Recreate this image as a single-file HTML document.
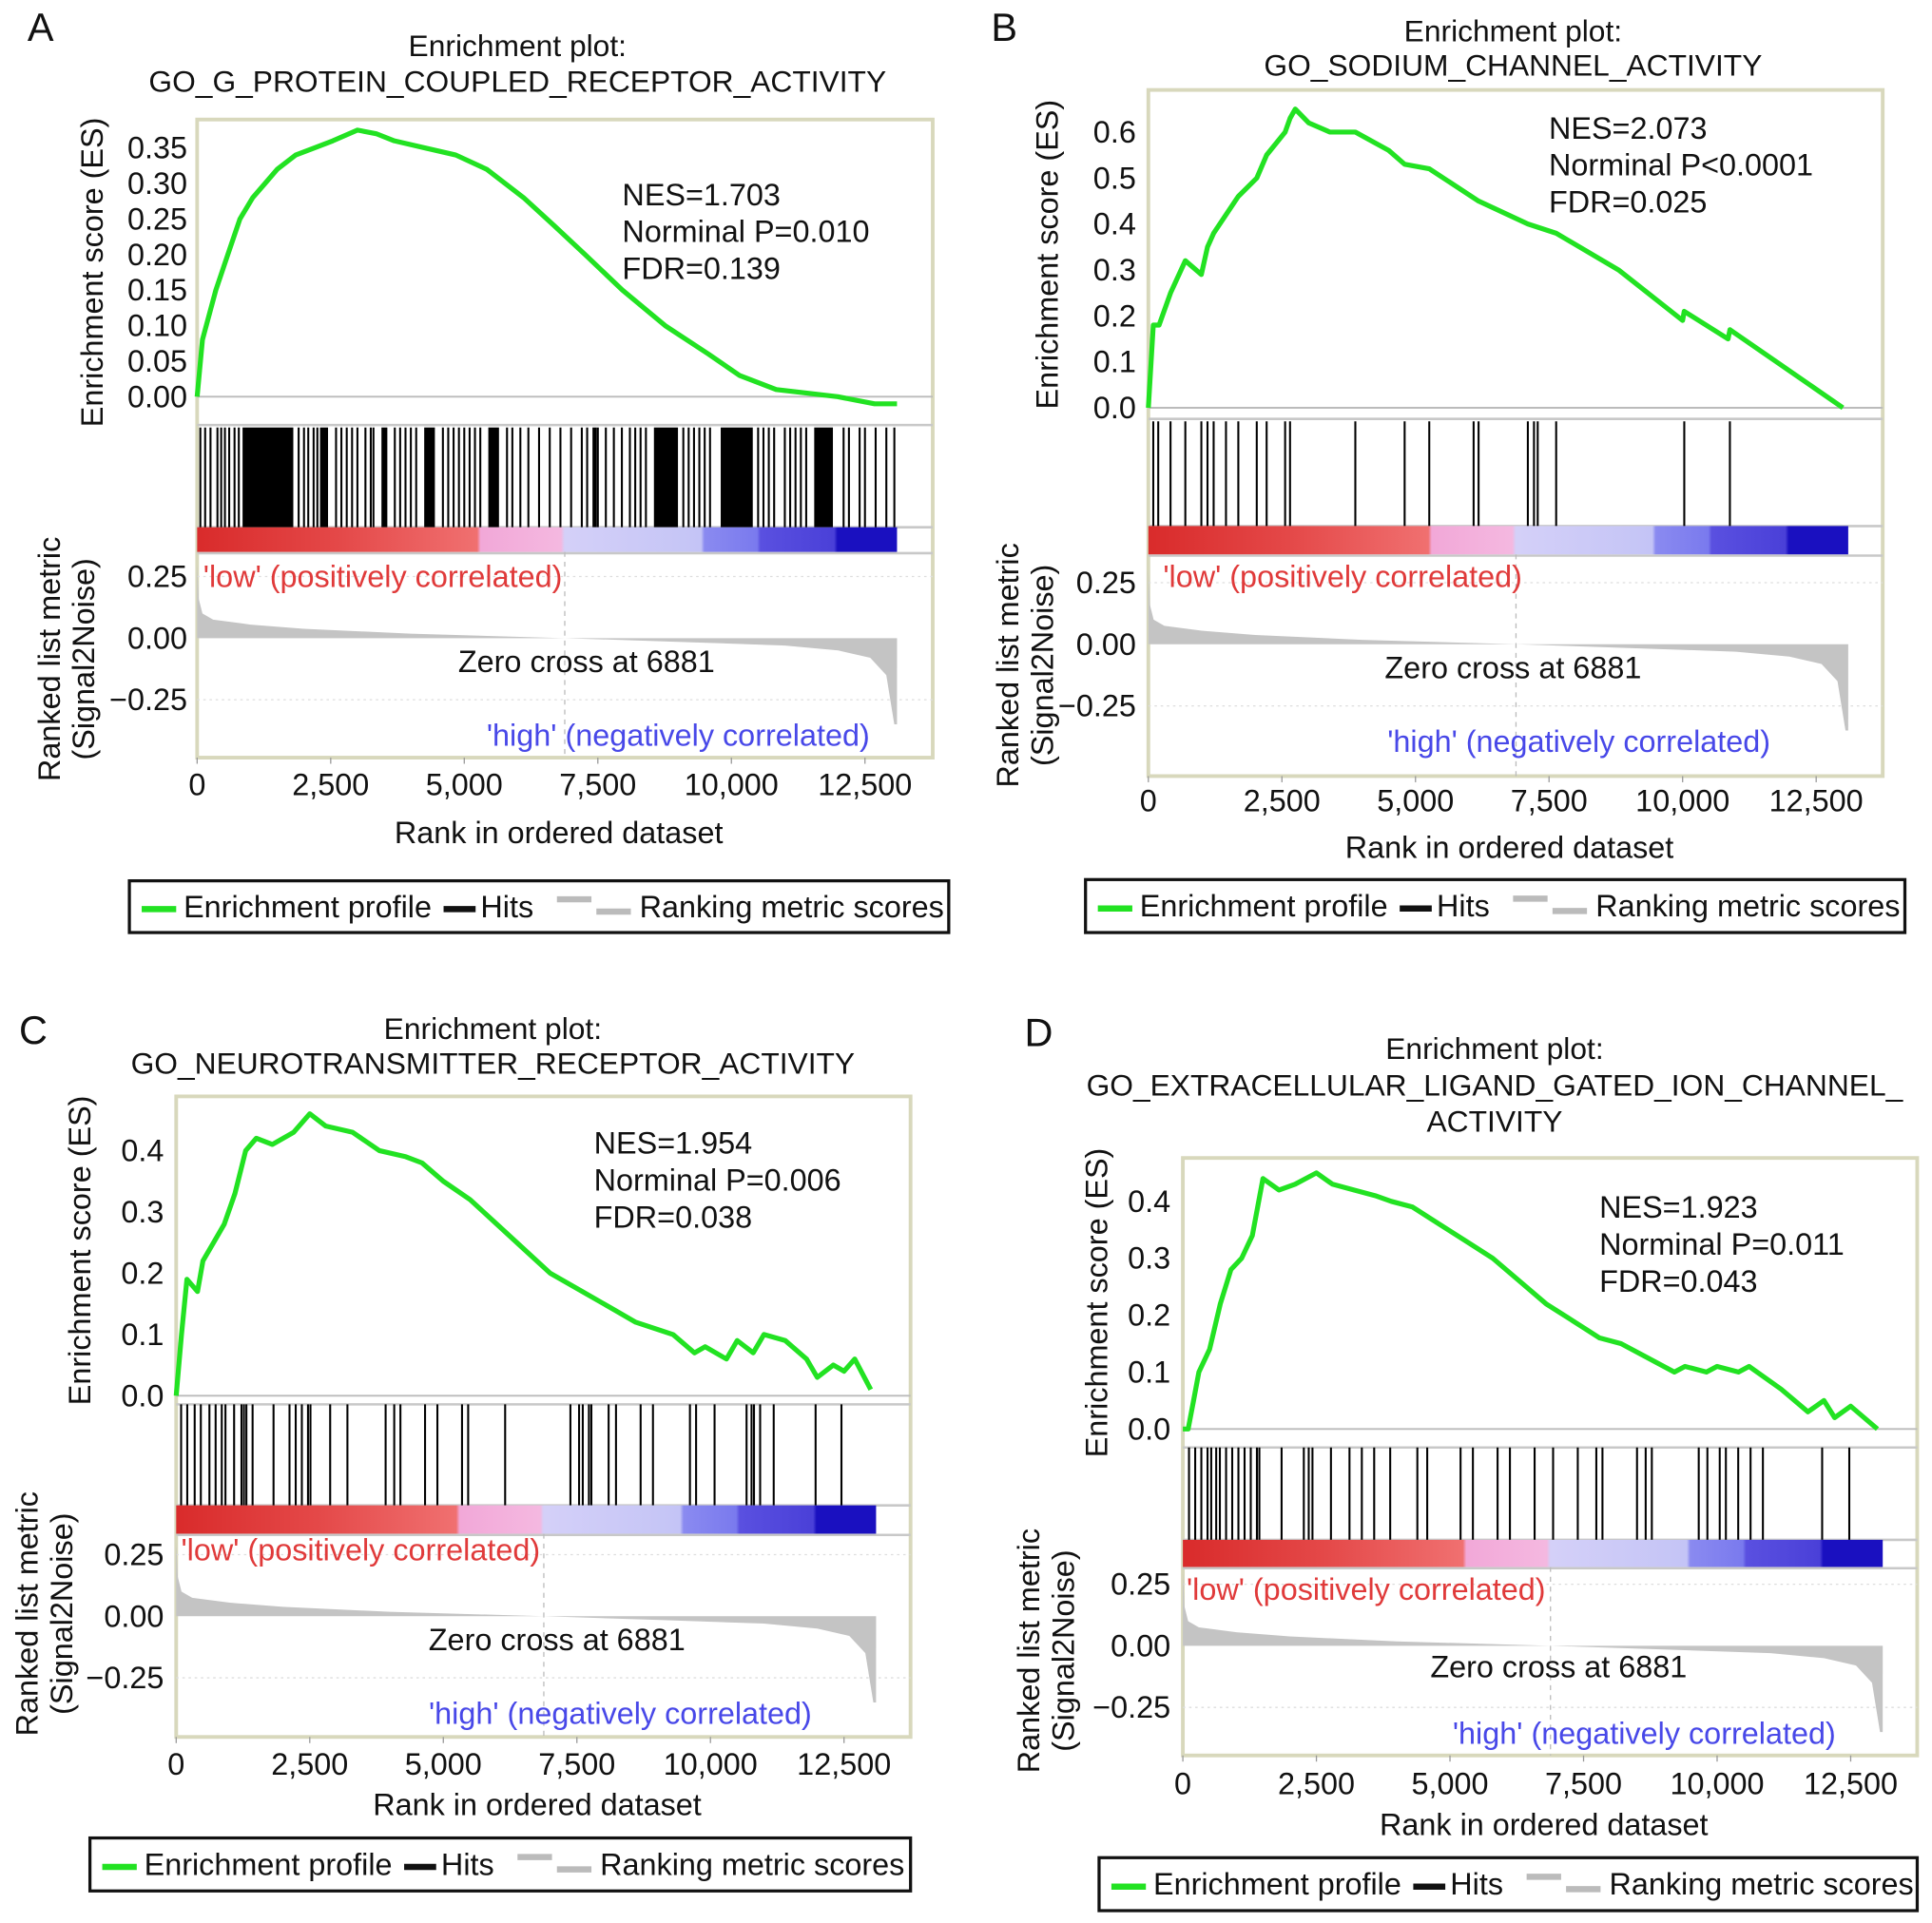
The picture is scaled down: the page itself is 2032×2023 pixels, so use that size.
<!DOCTYPE html>
<html><head><meta charset="utf-8"><style>
html,body{margin:0;padding:0;background:#fff}
svg{display:block}
text{font-family:"Liberation Sans",sans-serif}
</style></head><body>
<svg id="fig" xmlns="http://www.w3.org/2000/svg" width="2032" height="2023" viewBox="0 0 1568 1561">
<defs>
<linearGradient id="cbar" x1="0" x2="1" y1="0" y2="0">
<stop offset="0" stop-color="#d92b2b"/><stop offset="0.2" stop-color="#e44848"/><stop offset="0.4" stop-color="#f07070"/><stop offset="0.405" stop-color="#f2a8d8"/><stop offset="0.52" stop-color="#f4b8e0"/><stop offset="0.525" stop-color="#d4d0f8"/><stop offset="0.72" stop-color="#c4c4f6"/><stop offset="0.725" stop-color="#8a8af0"/><stop offset="0.8" stop-color="#7a7aee"/><stop offset="0.805" stop-color="#5a50e0"/><stop offset="0.91" stop-color="#4a40d8"/><stop offset="0.915" stop-color="#1a10c0"/><stop offset="1" stop-color="#1a10c0"/>
</linearGradient>
</defs>
</svg>
<script>
// ---------- data ----------
const rankTicks = [0, 2500, 5000, 7500, 10000, 12500];
const rankTickLabels = ["0", "2,500", "5,000", "7,500", "10,000", "12,500"];
const zeroCross = 6881;
const totalRank = 13100;
const metricRanks = [0, 30, 100, 300, 1000, 2000, 4000, 6881, 9000, 11000, 12000, 12600, 12900, 13050, 13100];
const metricVals  = [0.30, 0.16, 0.10, 0.075, 0.055, 0.038, 0.018, 0, -0.015, -0.03, -0.05, -0.08, -0.15, -0.35, -0.35];

const esRanksA = [0,100,350,575,800,1040,1270,1500,1845,2190,2540,3000,3350,3690,4270,4840,5420,6110,6690,7260,7960,8760,9570,10150,10840,11990,12680,13100];
const esValsA  = [0,0.08,0.15,0.2,0.25,0.28,0.3,0.32,0.34,0.35,0.36,0.375,0.37,0.36,0.35,0.34,0.32,0.28,0.24,0.2,0.15,0.1,0.06,0.03,0.01,0.0,-0.01,-0.01];
const hitsA = [60,150,250,380,450,520,600,700,780,1900,2000,2080,2180,2250,2600,2700,2800,2900,3000,3150,3250,3300,3700,3800,3900,4000,4100,4600,4700,4800,4900,5000,5100,5200,5300,5800,5900,6050,6200,6400,6600,6800,7000,7200,7300,7500,7650,7800,7950,8100,8200,8300,8400,9100,9200,9300,9400,9500,9600,10500,10600,10700,10800,11000,11100,11200,11300,11400,12100,12200,12400,12500,12700,12900,13050];
const hitBlocksA = [[850,1800],[2300,2450],[3450,3560],[4250,4450],[5450,5650],[7400,7480],[8550,9000],[9800,10400],[11550,11900]];
const statsA = ["NES=1.703","Norminal P=0.010","FDR=0.139"];

const esRanksB = [0,92,200,415,692,992,1107,1222,1453,1684,2029,2214,2560,2652,2750,3000,3400,3874,4500,4797,5258,6181,7103,7633,8800,10000,10031,10850,10885,13000];
const esValsB  = [0,0.18,0.18,0.25,0.32,0.29,0.35,0.38,0.42,0.46,0.5,0.55,0.6,0.63,0.65,0.62,0.6,0.6,0.56,0.53,0.52,0.45,0.4,0.38,0.3,0.19,0.21,0.15,0.17,0.0];
const hitsB = [92,185,415,692,992,1107,1222,1453,1684,2029,2214,2560,2652,3874,4797,5258,6088,6181,7103,7218,7288,7633,10031,10885];
const statsB = ["NES=2.073","Norminal P<0.0001","FDR=0.025"];

const esRanksC = [0,100,200,400,500,700,900,1100,1300,1500,1800,2200,2500,2800,3300,3800,4300,4600,5000,5500,6000,6500,7000,7600,8200,8600,9300,9700,9900,10300,10500,10800,11000,11400,11800,12000,12300,12500,12700,13000];
const esValsC  = [0,0.1,0.19,0.17,0.22,0.25,0.28,0.33,0.4,0.42,0.41,0.43,0.46,0.44,0.43,0.4,0.39,0.38,0.35,0.32,0.28,0.24,0.2,0.17,0.14,0.12,0.1,0.07,0.08,0.06,0.09,0.07,0.1,0.09,0.06,0.03,0.05,0.04,0.06,0.01];
const hitsC = [92,207,346,461,622,738,853,922,1084,1222,1268,1314,1430,1822,2121,2237,2352,2467,2513,2882,3205,3920,4081,4197,4658,4889,5350,5465,6157,7379,7541,7610,7725,7771,8094,8232,8693,8924,9616,9731,10077,10676,10769,10815,10930,11184,11968,12452];
const statsC = ["NES=1.954","Norminal P=0.006","FDR=0.038"];

const esRanksD = [0,100,200,300,500,700,900,1100,1300,1500,1800,2100,2500,2800,3200,3600,3900,4300,4800,5300,5800,6300,6800,7300,7800,8200,8600,9200,9400,9800,10000,10400,10600,11200,11700,12000,12200,12500,13000];
const esValsD  = [0,0.0,0.05,0.1,0.14,0.22,0.28,0.3,0.34,0.44,0.42,0.43,0.45,0.43,0.42,0.41,0.4,0.39,0.36,0.33,0.3,0.26,0.22,0.19,0.16,0.15,0.13,0.1,0.11,0.1,0.11,0.1,0.11,0.07,0.03,0.05,0.02,0.04,0.0];
const hitsD = [115,231,346,462,531,624,693,809,924,1040,1155,1271,1386,1432,1848,2264,2356,2426,2772,3119,3350,3581,3881,4389,4574,5198,5429,5891,6122,6584,6930,7392,7739,7854,8501,8663,8778,9656,9818,10049,10164,10395,10626,10857,11966,12474];
const statsD = ["NES=1.923","Norminal P=0.011","FDR=0.043"];

// ---------- drawing ----------
const NS = "http://www.w3.org/2000/svg";
const svg = document.getElementById("fig");
function el(tag, attrs, parent, txt){
  const e = document.createElementNS(NS, tag);
  for (const k in attrs) e.setAttribute(k, attrs[k]);
  if (txt !== undefined) e.textContent = txt;
  (parent || svg).appendChild(e);
  return e;
}
function T(x,y,s,opt,parent){
  const o = Object.assign({x:x,y:y,"font-size":25,"dominant-baseline":"central",fill:"#111"}, opt||{});
  return el("text", o, parent, s);
}

const panels = [
 {id:"a",L:"A",lx:33,ly:22,x0:160,right:757,top:97,esBot:345,es0:322,esU:577,esT:[0,0.05,0.1,0.15,0.2,0.25,0.3,0.35],dec:2,hitsTop:347,barTop:428,barBot:448,rankBot:615,m0:518,tickY:637,axY:676,leg:[105,715,665,42],title:["Enrichment plot:","GO_G_PROTEIN_COUPLED_RECEPTOR_ACTIVITY"],tx:420,ty:[37,66],esLx:75,rLx:[40,68],rLc:535,tickR:152,st:[505,158],low:[165,468],zero:[476,537],high:[395,597],er:esRanksA,ev:esValsA,hits:hitsA,blocks:hitBlocksA,stats:statsA},
 {id:"b",L:"B",lx:815,ly:22,x0:932,right:1528,top:73,esBot:340,es0:331,esU:373,esT:[0,0.1,0.2,0.3,0.4,0.5,0.6],dec:1,hitsTop:342,barTop:427,barBot:450,rankBot:630,m0:523,tickY:650,axY:688,leg:[881,714,665,43],title:["Enrichment plot:","GO_SODIUM_CHANNEL_ACTIVITY"],tx:1228,ty:[25,53],esLx:850,rLx:[818,846],rLc:540,tickR:922,st:[1257,104],low:[944,468],zero:[1228,542],high:[1126,602],er:esRanksB,ev:esValsB,hits:hitsB,blocks:[],stats:statsB},
 {id:"c",L:"C",lx:27,ly:836,x0:143,right:739,top:890,esBot:1140,es0:1133,esU:497.5,esT:[0,0.1,0.2,0.3,0.4],dec:1,hitsTop:1140,barTop:1222,barBot:1245,rankBot:1410,m0:1312,tickY:1432,axY:1465,leg:[73,1492,666,43],title:["Enrichment plot:","GO_NEUROTRANSMITTER_RECEPTOR_ACTIVITY"],tx:400,ty:[835,863],esLx:65,rLx:[22,50],rLc:1310,tickR:133,st:[482,928],low:[147,1258],zero:[452,1331],high:[348,1391],er:esRanksC,ev:esValsC,hits:hitsC,blocks:[],stats:statsC},
 {id:"d",L:"D",lx:843,ly:838,x0:960,right:1556,top:940,esBot:1175,es0:1160,esU:462,esT:[0,0.1,0.2,0.3,0.4],dec:1,hitsTop:1175,barTop:1250,barBot:1272,rankBot:1425,m0:1336,tickY:1448,axY:1481,leg:[892,1508,664,43],title:["Enrichment plot:","GO_EXTRACELLULAR_LIGAND_GATED_ION_CHANNEL_","ACTIVITY"],tx:1213,ty:[851,881,910],esLx:890,rLx:[835,863],rLc:1340,tickR:950,st:[1298,980],low:[963,1290],zero:[1265,1353],high:[1179,1407],er:esRanksD,ev:esValsD,hits:hitsD,blocks:[],stats:statsD}
];

panels.forEach(p=>{
  const g = el("g",{});
  
  
  const sx = r => p.x0 + r*542/12500;
  const sy = v => p.es0 - v*p.esU;
  const my = v => p.m0 - v*200;
  const xEnd = sx(totalRank);

  const lab = T(p.lx,p.ly,p.L,{"font-size":32,"text-anchor":"middle"},g);
  
  
  p.title.forEach((s,i)=>{
    const t = T(p.tx,p.ty[i],s,{"text-anchor":"middle","font-size":24.5},g);
    
    
  });

  const fr = el("rect",{x:p.x0,y:p.top,width:p.right-p.x0,height:p.rankBot-p.top,fill:"#fff",stroke:"#d8d8bc","stroke-width":3},g);
  
  
  el("line",{x1:p.x0,x2:p.right,y1:p.esBot,y2:p.esBot,stroke:"#c8c8c8","stroke-width":2},g);
  el("line",{x1:p.x0,x2:p.right,y1:p.barTop,y2:p.barTop,stroke:"#c8c8c8","stroke-width":2},g);
  el("line",{x1:p.x0,x2:p.right,y1:p.barBot+1,y2:p.barBot+1,stroke:"#c8c8c8","stroke-width":2},g);
  el("line",{x1:p.x0,x2:p.right,y1:p.es0,y2:p.es0,stroke:"#bbb","stroke-width":1.5},g);

  p.esT.forEach(v=>{
    const t = T(p.tickR,sy(v),v.toFixed(p.dec),{"text-anchor":"end"},g);
    
    
  });
  const ya = T(p.esLx,(p.top+p.esBot)/2,"Enrichment score (ES)",{"text-anchor":"middle",transform:`rotate(-90 ${p.esLx} ${(p.top+p.esBot)/2})`},g);
  
  

  const pts = p.er.map((r,i)=>sx(r).toFixed(1)+","+sy(p.ev[i]).toFixed(1)).join(" ");
  const es = el("polyline",{points:pts,fill:"none",stroke:"#22e222","stroke-width":4,"stroke-linejoin":"round"},g);
  
  

  p.blocks.forEach(b=>{
    const r = el("rect",{x:sx(b[0]),y:p.hitsTop,width:sx(b[1])-sx(b[0]),height:p.barTop-p.hitsTop,fill:"#000"},g);
    
    
  });
  p.hits.forEach(h=>{
    const l = el("line",{x1:sx(h),x2:sx(h),y1:p.hitsTop,y2:p.barTop,stroke:"#000","stroke-width":1.6},g);
    
    
  });

  const cb = el("rect",{x:p.x0,y:p.barTop,width:xEnd-p.x0,height:p.barBot-p.barTop,fill:"url(#cbar)"},g);
  
  

  [0.25,-0.25].forEach(v=>el("line",{x1:p.x0,x2:p.right,y1:my(v),y2:my(v),stroke:"#ddd","stroke-dasharray":"2,3"},g));
  const zc = el("line",{x1:sx(zeroCross),x2:sx(zeroCross),y1:p.barBot,y2:p.rankBot,stroke:"#bbb","stroke-dasharray":"4,4"},g);
  
  

  let d = `M${sx(0)},${my(0)}`;
  metricRanks.forEach((r,i)=>{ d += ` L${sx(r).toFixed(1)},${my(metricVals[i]).toFixed(1)}`; });
  d += ` L${sx(totalRank)},${my(0)} Z`;
  const ar = el("path",{d:d,fill:"#c4c4c4"},g);
  
  

  [0.25,0,-0.25].forEach(v=>{
    const t = T(p.tickR,my(v),v===0?"0.00":(v>0?"0.25":"\u22120.25"),{"text-anchor":"end"},g);
    
    
  });
  ["Ranked list metric","(Signal2Noise)"].forEach((s,i)=>{
    const t = T(p.rLx[i],p.rLc,s,{"text-anchor":"middle",transform:`rotate(-90 ${p.rLx[i]} ${p.rLc})`},g);
    
    
  });

  const lo = T(p.low[0],p.low[1],"'low' (positively correlated)",{fill:"#e03a3a"},g);
  
  
  const zt = T(p.zero[0],p.zero[1],"Zero cross at 6881",{"text-anchor":"middle"},g);
  
  
  const hi = T(p.high[0],p.high[1],"'high' (negatively correlated)",{fill:"#4848e8"},g);
  
  

  p.stats.forEach((s,i)=>{
    const t = T(p.st[0],p.st[1]+i*30,s,{},g);
    
    
  });

  rankTicks.forEach((r,i)=>{
    el("line",{x1:sx(r),x2:sx(r),y1:p.rankBot,y2:p.rankBot+5,stroke:"#999"},g);
    const t = T(sx(r),p.tickY,rankTickLabels[i],{"text-anchor":"middle"},g);
    
    
  });
  const xt = T((p.x0+p.right)/2-5,p.axY,"Rank in ordered dataset",{"text-anchor":"middle"},g);
  
  

  const [lx,ly,lw,lh] = p.leg;
  const lg = el("g",{},g);
  
  
  el("rect",{x:lx,y:ly,width:lw,height:lh,fill:"#fff",stroke:"#111","stroke-width":2.5},lg);
  const cy = ly+lh/2;
  el("line",{x1:lx+10,x2:lx+38,y1:cy+2,y2:cy+2,stroke:"#22e222","stroke-width":5},lg);
  const e1 = T(lx+44,cy,"Enrichment profile",{},lg);
  
  
  el("line",{x1:lx+255,x2:lx+281,y1:cy+2,y2:cy+2,stroke:"#111","stroke-width":5},lg);
  const e2 = T(lx+285,cy,"Hits",{},lg);
  
  
  el("line",{x1:lx+347,x2:lx+375,y1:cy-6,y2:cy-6,stroke:"#bbb","stroke-width":5},lg);
  el("line",{x1:lx+379,x2:lx+407,y1:cy+4,y2:cy+4,stroke:"#bbb","stroke-width":5},lg);
  const e3 = T(lx+414,cy,"Ranking metric scores",{},lg);
  
  
});
</script>
</body></html>
